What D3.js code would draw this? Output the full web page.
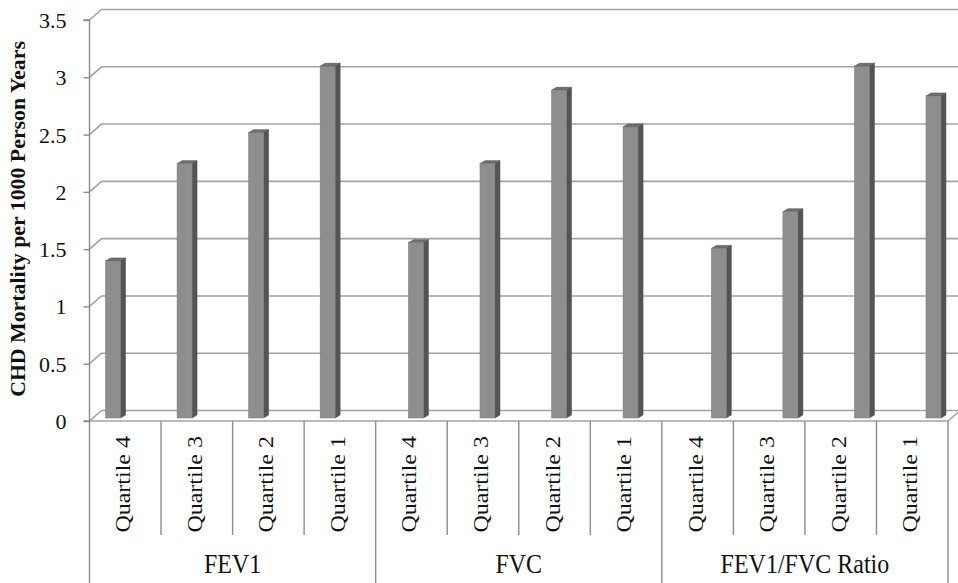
<!DOCTYPE html>
<html>
<head>
<meta charset="utf-8">
<script src="https://cdn.jsdelivr.net/npm/d3@7"></script>
<style>
  html, body { margin: 0; padding: 0; background: #fff; }
  svg { display: block; }
  svg text { font-family: "Liberation Serif", "Times New Roman", serif; }
</style>
</head>
<body>
<svg id="chart" width="958" height="583"></svg>
<script>
// CHD mortality per 1000 person-years by lung-function quartile
const groups = ["FEV1", "FVC", "FEV1/FVC Ratio"];
const quartiles = ["Quartile 4", "Quartile 3", "Quartile 2", "Quartile 1"];
const fev1Values = [1.37, 2.22, 2.49, 3.07];
const fvcValues = [1.53, 2.22, 2.86, 2.54];
const ratioValues = [1.48, 1.80, 3.07, 2.81];
const yTicks = [0, 0.5, 1, 1.5, 2, 2.5, 3, 3.5];
const yTitle = "CHD Mortality per 1000 Person Years";

const serif = "Liberation Serif, Times New Roman, serif";

const seriesByGroup = [fev1Values, fvcValues, ratioValues];
const rows = [];
groups.forEach((g, gi) => quartiles.forEach((q, qi) => {
  rows.push({ key: g + "|" + q, group: g, gi, quartile: q, value: seriesByGroup[gi][qi] });
}));

const svg = d3.select("#chart");

// plot frame (front plane) and oblique depth offset of the back wall
const left = 89.5, right = 948, floorY = 421, topY = 20;
const depth = { dx: 12, dy: -10.5 };

const x = d3.scaleBand().domain(rows.map(d => d.key)).range([left, right]).padding(0);
const y = d3.scaleLinear().domain([0, 3.5]).range([floorY, topY]);

const gridColor = "#a3a3a3";
const axisColor = "#8c8c8c";

// back-wall gridlines with their side-wall diagonals
const grid = svg.append("g");
yTicks.forEach(t => {
  const yf = y(t), yb = y(t) + depth.dy;
  grid.append("path")
    .attr("d", `M${left},${yf}L${left + depth.dx},${yb}L960,${yb}`)
    .attr("fill", "none").attr("stroke", gridColor).attr("stroke-width", 1.6);
});

// floor front edge and right-hand corner
svg.append("path")
  .attr("d", `M${left},${floorY}L${right},${floorY}L${right + 12},${floorY + depth.dy}`)
  .attr("fill", "none").attr("stroke", gridColor).attr("stroke-width", 1.6);

// value axis
const yAxis = d3.axisLeft(y).tickValues(yTicks).tickSize(6).tickPadding(0)
  .tickFormat(d => d3.format("")(d));
const yg = svg.append("g").attr("transform", `translate(${left},0)`).call(yAxis);
yg.attr("font-family", serif);
yg.select(".domain").attr("stroke", axisColor).attr("stroke-width", 1.4)
  .attr("d", `M-6,${topY}H0V${floorY}H-6`);
yg.selectAll(".tick line").attr("stroke", axisColor).attr("stroke-width", 1.4);
yg.selectAll(".tick text")
  .attr("x", -23).attr("dy", "0.34em")
  .attr("font-size", 22).attr("fill", "#111")
  .attr("font-family", serif);

// 3D columns
const bw = x.bandwidth();
const face = 15, side = 5, rise = 3, lift = 3;
const barCenter = d => x(d.key) + bw / 2 - 9.75 + d.gi * 16.75;

const bars = svg.append("g").selectAll("g").data(rows).join("g");
bars.append("path") // side
  .attr("d", d => {
    const cx = barCenter(d), yt = y(d.value) - lift, y0 = y(0) - lift;
    const xr = cx - 10 + face;
    return `M${xr},${yt}L${xr + side},${yt - rise}L${xr + side},${y0 - rise}L${xr},${y0}Z`;
  })
  .attr("fill", "#545454").attr("stroke", "#4a4a4a").attr("stroke-width", 0.5);
bars.append("path") // top
  .attr("d", d => {
    const cx = barCenter(d), yt = y(d.value) - lift;
    const xl = cx - 10;
    return `M${xl},${yt}L${xl + side},${yt - rise}L${xl + face + side},${yt - rise}L${xl + face},${yt}Z`;
  })
  .attr("fill", "#707070").attr("stroke", "#505050").attr("stroke-width", 0.6);
bars.append("rect") // front
  .attr("x", d => barCenter(d) - 10)
  .attr("y", d => y(d.value) - lift)
  .attr("width", face)
  .attr("height", d => y(0) - y(d.value))
  .attr("fill", "#8e8e8e").attr("stroke", "#7a7a7a").attr("stroke-width", 0.5);

// category axis: quartile dividers, group dividers and labels
const cat = svg.append("g");
const bottom = 583;
rows.forEach((d, i) => {
  const xl = x(d.key);
  const isGroupStart = i % quartiles.length === 0;
  cat.append("line")
    .attr("x1", xl).attr("x2", xl)
    .attr("y1", floorY).attr("y2", isGroupStart ? bottom : 535)
    .attr("stroke", axisColor).attr("stroke-width", 1.4);
});
cat.append("line").attr("x1", right).attr("x2", right)
  .attr("y1", floorY).attr("y2", bottom)
  .attr("stroke", axisColor).attr("stroke-width", 1.4);

const stretch = 1.2;
rows.forEach(d => {
  const cx = x(d.key) + bw / 2;
  cat.append("g")
    .attr("transform", `translate(${cx},436) scale(1,${stretch}) rotate(-90)`)
    .append("text")
    .attr("text-anchor", "end").attr("dy", 5)
    .attr("font-family", serif)
    .attr("font-size", 20).attr("fill", "#111")
    .text(d.quartile);
});

groups.forEach((g, gi) => {
  const keys = rows.filter(r => r.gi === gi).map(r => r.key);
  const cx = (x(keys[0]) + x(keys[keys.length - 1]) + bw) / 2;
  cat.append("g")
    .attr("transform", `translate(${cx},573) scale(1,1.12)`)
    .append("text")
    .attr("text-anchor", "middle")
    .attr("font-family", serif)
    .attr("font-size", 24).attr("fill", "#111")
    .text(g);
});

// value axis title
svg.append("g")
  .attr("transform", `translate(25,219) scale(1,1.04) rotate(-90)`)
  .append("text")
  .attr("text-anchor", "middle")
  .attr("font-family", serif)
  .attr("font-size", 21).attr("font-weight", "bold").attr("fill", "#111")
  .text(yTitle);
</script>
</body>
</html>
